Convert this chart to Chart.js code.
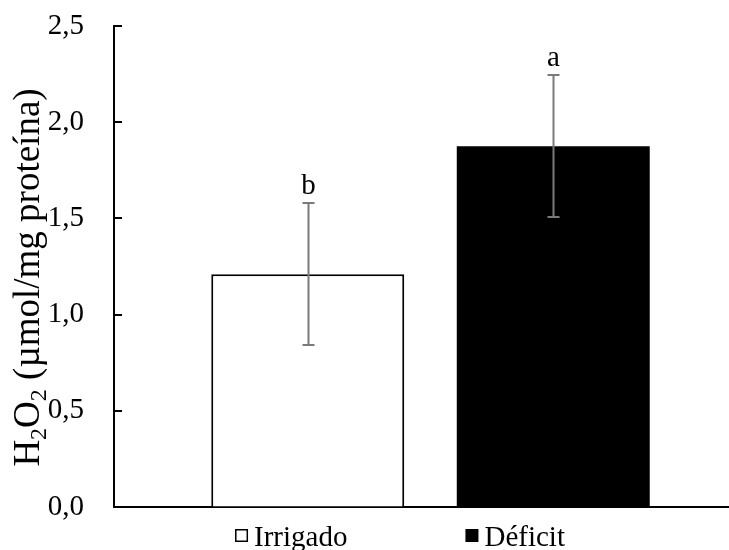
<!DOCTYPE html>
<html><head><meta charset="utf-8">
<script src="https://cdn.jsdelivr.net/npm/chart.js@4"></script>
<style>html,body{margin:0;padding:0;overflow:hidden;background:#fff}#wrap{width:747px;height:550px;position:relative}</style>
</head><body><div id="wrap"><canvas id="c"></canvas></div>
<script>
const categories = ['Irrigado', 'Déficit'];
const means = [1.21, 1.875];
const errors = [0.37, 0.37];
const letters = ['b', 'a'];
const yTicks = [0, 0.5, 1.0, 1.5, 2.0, 2.5];

const FONT = '"Liberation Serif", "Times New Roman", serif';
const FS = 29;
const TFS = 37;
const fills = ['#ffffff', '#000000'];

const datasets = categories.map((c, i) => ({
  label: c,
  data: [means[i]],
  backgroundColor: fills[i],
  borderColor: '#000000',
  borderWidth: i === 0 ? 2 : 0,
  categoryPercentage: 0.7757,
  barPercentage: 0.786
}));

const extras = {
  id: 'extras',
  afterDatasetsDraw(chart) {
    const ctx = chart.ctx;
    const y = chart.scales.y;
    const ca = chart.chartArea;
    ctx.save();
    ctx.strokeStyle = '#000';
    ctx.lineWidth = 2;
    y.ticks.forEach(t => {
      const py = Math.round(y.getPixelForValue(t.value));
      ctx.beginPath();
      ctx.moveTo(ca.left, py);
      ctx.lineTo(ca.left + 8, py);
      ctx.stroke();
    });
    categories.forEach((c, i) => {
      const bar = chart.getDatasetMeta(i).data[0];
      const x = Math.round(bar.x) + 0.5;
      const yt = Math.round(y.getPixelForValue(means[i] + errors[i]));
      const yb = Math.round(y.getPixelForValue(means[i] - errors[i]));
      ctx.strokeStyle = '#7a7a7a';
      ctx.lineWidth = 2;
      ctx.beginPath();
      ctx.moveTo(x, yt); ctx.lineTo(x, yb);
      ctx.moveTo(x - 6, yt); ctx.lineTo(x + 6, yt);
      ctx.moveTo(x - 6, yb); ctx.lineTo(x + 6, yb);
      ctx.stroke();
      ctx.fillStyle = '#000';
      ctx.font = FS + 'px ' + FONT;
      ctx.textAlign = 'center';
      ctx.textBaseline = 'alphabetic';
      ctx.fillText(letters[i], x, yt - 9);
    });
    ctx.restore();
  },
  afterDraw(chart) {
    const ctx = chart.ctx;
    const ca = chart.chartArea;
    ctx.save();
    const parts = [['H', 0], ['2', 1], ['O', 0], ['2', 1], [' (µmol/mg proteína)', 0]];
    const sub = Math.round(TFS * 0.65);
    let total = 0;
    parts.forEach(p => {
      ctx.font = (p[1] ? sub : TFS) + 'px ' + FONT;
      total += ctx.measureText(p[0]).width;
    });
    ctx.translate(39, (ca.top + ca.bottom) / 2 + 11);
    ctx.rotate(-Math.PI / 2);
    ctx.fillStyle = '#000';
    ctx.textAlign = 'left';
    ctx.textBaseline = 'alphabetic';
    let px = -total / 2;
    parts.forEach(p => {
      ctx.font = (p[1] ? sub : TFS) + 'px ' + FONT;
      ctx.fillText(p[0], px, p[1] ? 7 : 0);
      px += ctx.measureText(p[0]).width;
    });
    ctx.restore();

    ctx.save();
    ctx.font = FS + 'px ' + FONT;
    const box = 13, gap = 6, spacing = 118;
    const widths = categories.map(c => box + gap + ctx.measureText(c).width);
    const tw = widths.reduce((a, b) => a + b, 0) + spacing * (categories.length - 1);
    let lx = ca.left + 286 - tw / 2;
    const base = 546;
    categories.forEach((c, i) => {
      if (i === 0) {
        ctx.fillStyle = '#fff';
        ctx.fillRect(lx, base - 17, box, box);
        ctx.strokeStyle = '#000';
        ctx.lineWidth = 1.5;
        ctx.strokeRect(lx + 0.75, base - 17 + 0.75, box - 1.5, box - 1.5);
      } else {
        ctx.fillStyle = '#000';
        ctx.fillRect(lx, base - 17, box, box);
      }
      ctx.fillStyle = '#000';
      ctx.textAlign = 'left';
      ctx.textBaseline = 'alphabetic';
      ctx.fillText(c, lx + box + gap, base);
      lx += widths[i] + spacing;
    });
    ctx.restore();
  }
};

new Chart(document.getElementById('c'), {
  type: 'bar',
  data: { labels: [''], datasets },
  options: {
    responsive: true,
    maintainAspectRatio: false,
    animation: false,
    layout: { padding: { top: 26, bottom: 43, left: 0, right: 0 } },
    plugins: { legend: { display: false }, tooltip: { enabled: false } },
    scales: {
      x: {
        ticks: { display: false },
        grid: { display: true, drawOnChartArea: false, drawTicks: false },
        border: { display: true, color: '#000', width: 2 },
        afterFit(s) { s.height = 0; s.paddingLeft = 0; s.paddingRight = 0; }
      },
      y: {
        min: 0, max: 2.5,
        afterBuildTicks(s) { s.ticks = yTicks.map(v => ({ value: v })); },
        ticks: {
          padding: 30,
          color: '#000',
          font: { family: FONT, size: FS },
          callback: v => v.toFixed(1).replace('.', ',')
        },
        grid: { display: true, drawOnChartArea: false, drawTicks: false },
        border: { display: true, color: '#000', width: 2 },
        afterFit(s) { s.width = 114; s.paddingTop = 0; s.paddingBottom = 0; }
      }
    }
  },
  plugins: [extras]
});
</script>
</body></html>
